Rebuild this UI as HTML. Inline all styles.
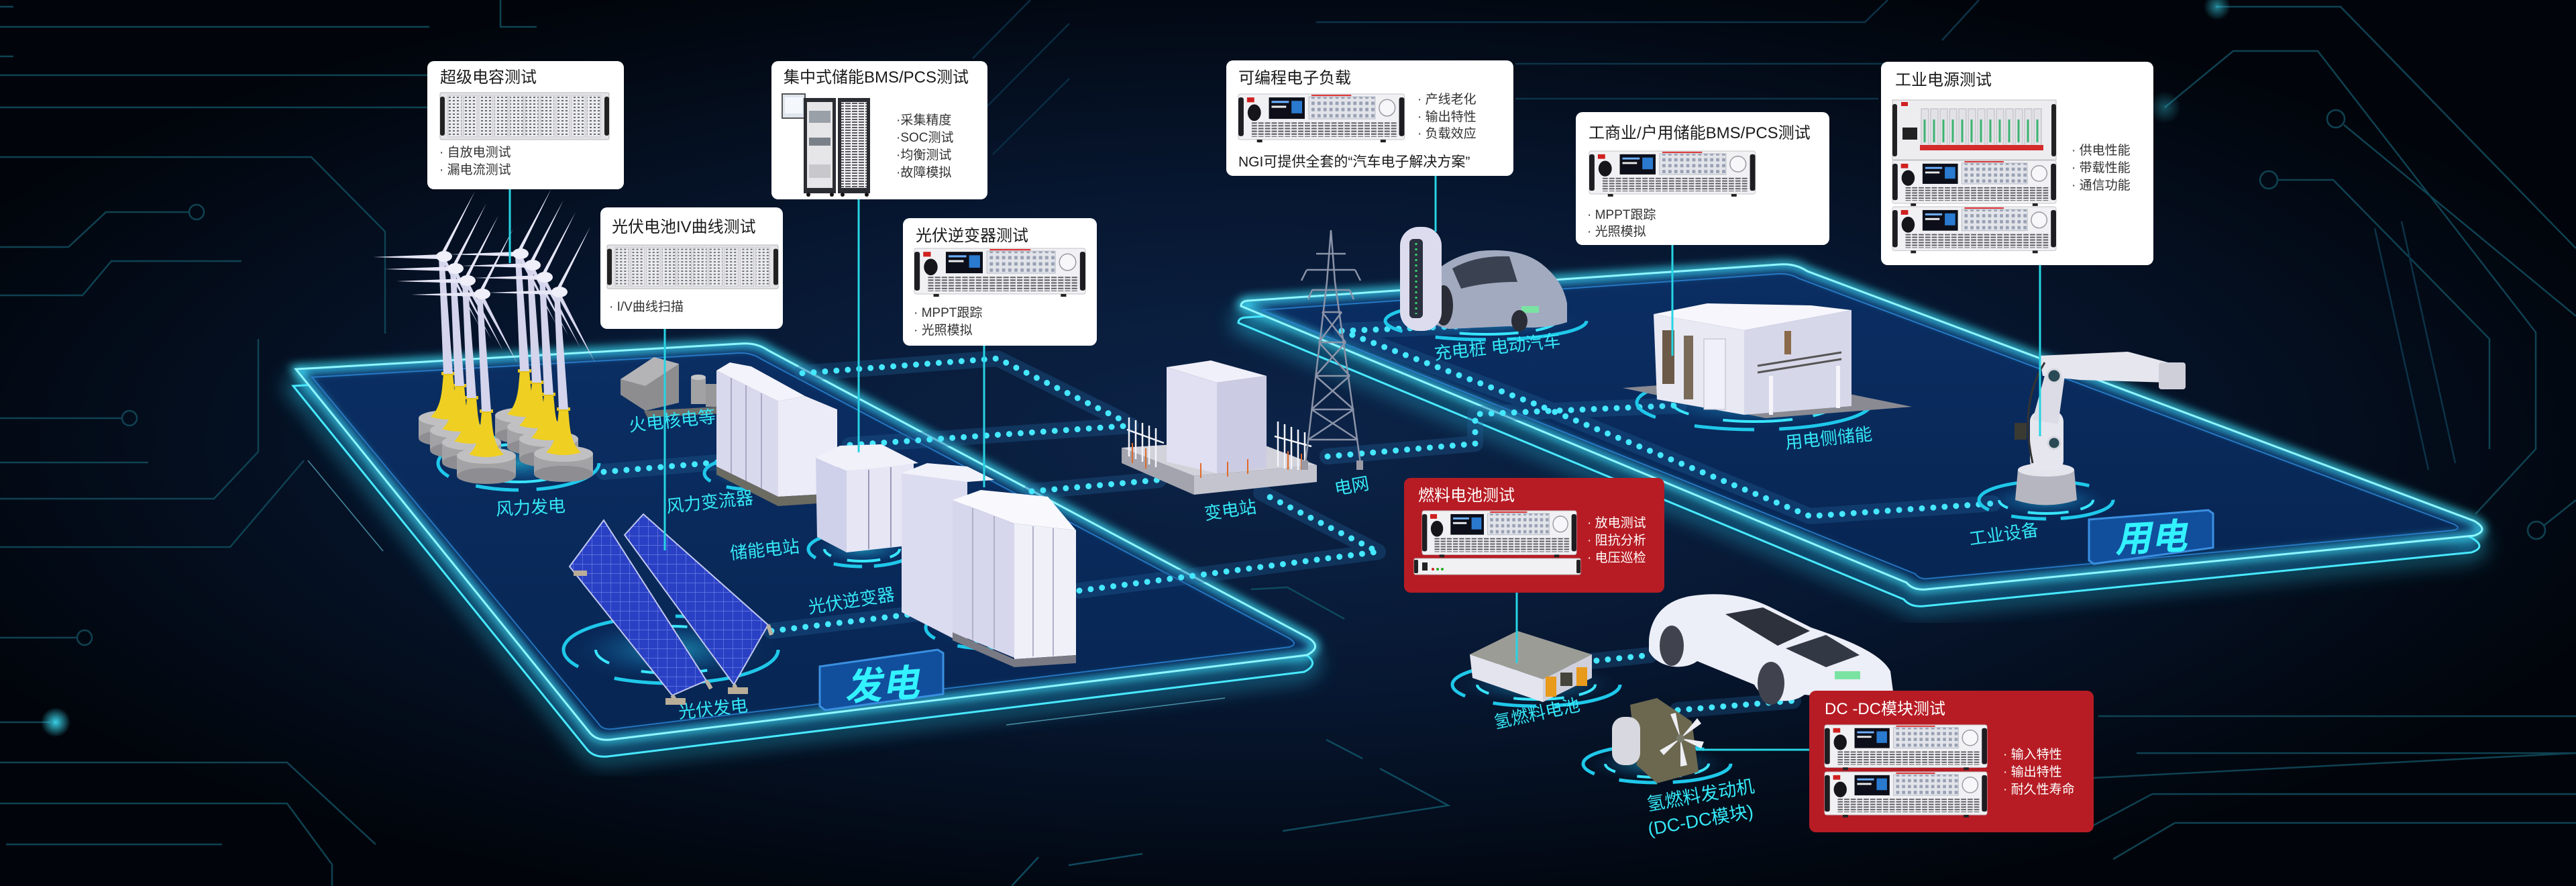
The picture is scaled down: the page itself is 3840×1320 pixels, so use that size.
<!DOCTYPE html>
<html><head><meta charset="utf-8"><title>NGI 新能源测试方案</title>
<style>
html,body{margin:0;padding:0;background:#02060c;width:3840px;height:1320px;overflow:hidden}
svg{display:block}
text{font-family:"Liberation Sans","Noto Sans CJK SC",sans-serif}
</style></head><body>
<svg width="3840" height="1320" viewBox="0 0 3840 1320" xmlns="http://www.w3.org/2000/svg" xmlns:xlink="http://www.w3.org/1999/xlink">
<defs>
 <radialGradient id="bg" cx="0.49" cy="0.5" r="0.56">
  <stop offset="0" stop-color="#0c2449"/>
  <stop offset="0.5" stop-color="#071731"/>
  <stop offset="1" stop-color="#01050b"/>
 </radialGradient>
 <linearGradient id="plat" x1="0" y1="0" x2="0" y2="1">
  <stop offset="0" stop-color="#0b2e63"/>
  <stop offset="1" stop-color="#072552"/>
 </linearGradient>
 <radialGradient id="hg">
  <stop offset="0" stop-color="#29d7f0" stop-opacity="0.55"/>
  <stop offset="0.6" stop-color="#1a8fd0" stop-opacity="0.18"/>
  <stop offset="1" stop-color="#0a3060" stop-opacity="0"/>
 </radialGradient>
 <radialGradient id="dotg">
  <stop offset="0" stop-color="#3fe6ff" stop-opacity="0.9"/>
  <stop offset="1" stop-color="#3fe6ff" stop-opacity="0"/>
 </radialGradient>
 <filter id="gl" x="-5%" y="-5%" width="110%" height="110%"><feGaussianBlur stdDeviation="7"/></filter>
 <filter id="gl2" x="-5%" y="-5%" width="110%" height="110%"><feGaussianBlur stdDeviation="16"/></filter>
 <pattern id="modp" width="6" height="5" patternUnits="userSpaceOnUse"><rect width="6" height="5" fill="#ebebed"/><rect x="1" y="1" width="3" height="2" fill="#666a72"/></pattern>
 <pattern id="grille" width="10" height="4" patternUnits="userSpaceOnUse"><rect width="10" height="4" fill="#f1f1f3"/><rect x="0" y="1" width="8" height="2" fill="#5a5a60"/></pattern>
 <pattern id="keys" width="9" height="9" patternUnits="userSpaceOnUse"><rect width="9" height="9" fill="#e2e4ea"/><rect x="2" y="2" width="5" height="5" rx="1" fill="#9aa2b4"/></pattern>
 <pattern id="cells" width="14" height="14" patternUnits="userSpaceOnUse"><rect width="14" height="14" fill="#2a40c4"/><path d="M0,0 H14 M0,0 V14" stroke="#7086ea" stroke-width="1.2"/></pattern>

 <g id="psu">
  <rect x="0" y="0" width="250" height="66" rx="3" fill="#f1f1f3" stroke="#c4c4ca"/>
  <rect x="0" y="5" width="8" height="56" rx="3" fill="#1e1e22"/>
  <rect x="242" y="5" width="8" height="56" rx="3" fill="#1e1e22"/>
  <rect x="13" y="5" width="11" height="7" fill="#d02020"/>
  <ellipse cx="24" cy="27" rx="10" ry="12" fill="#15151a"/>
  <rect x="46" y="5" width="54" height="31" fill="#0c0f1a"/>
  <rect x="50" y="10" width="26" height="3" fill="#6fb0ff"/>
  <rect x="50" y="17" width="22" height="3" fill="#e8e8e8"/>
  <rect x="80" y="10" width="16" height="18" fill="#2a7ad0"/>
  <rect x="106" y="4" width="100" height="32" fill="url(#keys)" stroke="#b8bcc8"/>
  <rect x="110" y="1" width="60" height="2" fill="#d33"/>
  <circle cx="224" cy="20" r="12" fill="#f7f7f9" stroke="#9a9aa0" stroke-width="1.5"/>
  <rect x="20" y="41" width="220" height="21" fill="url(#grille)"/>
  <rect x="28" y="66" width="8" height="4" fill="#222"/>
  <rect x="214" y="66" width="8" height="4" fill="#222"/>
 </g>
 <g id="rack">
  <rect x="0" y="0" width="252" height="70" rx="2" fill="#e4e4e7" stroke="#b5b5ba"/>
  <rect x="0" y="6" width="7" height="58" rx="3" fill="#222"/>
  <rect x="245" y="6" width="7" height="58" rx="3" fill="#222"/>
  <rect x="12" y="4" width="20" height="62" fill="url(#modp)" stroke="#c5c5ca"/>
  <rect x="35" y="4" width="20" height="62" fill="url(#modp)" stroke="#c5c5ca"/>
  <rect x="58" y="4" width="20" height="62" fill="url(#modp)" stroke="#c5c5ca"/>
  <rect x="81" y="4" width="20" height="62" fill="url(#modp)" stroke="#c5c5ca"/>
  <rect x="104" y="4" width="20" height="62" fill="url(#modp)" stroke="#c5c5ca"/>
  <rect x="127" y="4" width="20" height="62" fill="url(#modp)" stroke="#c5c5ca"/>
  <rect x="150" y="4" width="20" height="62" fill="url(#modp)" stroke="#c5c5ca"/>
  <rect x="173" y="4" width="20" height="62" fill="url(#modp)" stroke="#c5c5ca"/>
  <rect x="196" y="4" width="20" height="62" fill="url(#modp)" stroke="#c5c5ca"/>
  <rect x="219" y="4" width="20" height="62" fill="url(#modp)" stroke="#c5c5ca"/>
 </g>
 <g id="tb">
  <rect x="-44" y="66" width="88" height="30" fill="#a3a3a6"/>
  <ellipse cx="0" cy="96" rx="44" ry="12" fill="#8e8e92"/>
  <ellipse cx="0" cy="66" rx="44" ry="12" fill="#c0c0c3"/>
  <path d="M-7,0 L7,0 L9,22 Q12,52 26,64 Q0,72 -26,64 Q-12,52 -9,22 Z" fill="#efd022"/>
  <rect x="-10" y="-3" width="20" height="5" fill="#e3c21a"/>
  <polygon points="-14,-175 -6,-175 7,0 -7,0" fill="#d4d4ec"/>
  <polygon points="-10,-178 -112,-174 -10,-171" fill="#e6e6f6"/>
  <polygon points="-13,-175 40,-272 -7,-175" fill="#e6e6f6"/>
  <polygon points="-12,-174 47,-70 -6,-176" fill="#d8d8ee"/>
  <ellipse cx="-6" cy="-175" rx="12" ry="8" fill="#efeffa"/>
 </g>
 <g id="pp">
  <path d="M900,703 L1079,688"/>
  <path d="M1196,556 L1487,534 L1675,627"/>
  <path d="M1267,663 L1686,634"/>
  <path d="M1538,732 L1727,715"/>
  <path d="M1150,940 L1410,909"/>
  <path d="M1609,880 L2054,822 L1880,734"/>
  <path d="M1979,680 L2199,661 L2199,617 L2503,604"/>
  <path d="M2000,493 L2180,486"/>
  <path d="M2000,493 L2294,604 L2698,769 L2971,750"/>
  <path d="M2363,986 L2459,976"/>
  <path d="M2501,1058 L2673,1044"/>
 </g>
</defs>

<!-- background -->
<rect width="3840" height="1320" fill="url(#bg)"/>

<!-- circuit lines -->
<g fill="none" stroke="#0f4252" stroke-width="2.5">
 <path d="M0,10 H20 M0,84 H20 M0,40 H640 M746,0 V40 H800 M0,112 H660 M0,160 H660"/>
 <path d="M0,234 H464 L574,345 V497"/>
 <path d="M282,316 H158 L102,368 H0"/>
 <path d="M360,389 H166 L123,440 H0"/>
 <path d="M182,623 H0 M0,689 H221"/>
 <path d="M0,743 H319 L385,673 V505"/>
 <path d="M0,815 H343 L453,686"/>
 <path d="M115,950 H0 M75,1076 H0"/>
 <path d="M0,1136 H428 L560,1258 M0,1197 H428 L495,1288 V1320 M9,1258 H331"/>
 <circle cx="293" cy="316" r="11"/>
 <circle cx="193" cy="623" r="11"/>
 <circle cx="126" cy="950" r="11"/>
 <path d="M3303,10 H3489 L3840,370"/>
 <path d="M3227,160 L3329,76 H3455 L3780,495 V669 L3690,766"/>
 <path d="M3494,186 L3840,471"/>
 <path d="M3395,268 H3478 L3711,505 V669"/>
 <path d="M3792,783 L3840,745"/>
 <path d="M3128,1067 H3840 M3185,1122 H3840 L3100,1160 M3208,1183 H3840 M3208,1183 L3120,1230 M3242,1226 H3840 M3242,1226 L3150,1280"/>
 <circle cx="3482" cy="177" r="13"/>
 <circle cx="3382" cy="268" r="13"/>
 <circle cx="3781" cy="790" r="13"/>
 <path d="M1962,33 H2780 L2814,0 M2259,95 H2810 M2259,147 H2800 M2895,60 L2950,0" stroke="#0c3348"/>
 <path d="M1536,0 L1450,87 M1594,35 L1450,180 M1594,117 L1480,230" stroke="#0a2c42"/>
 <path d="M3540,340 L3620,700 M3580,330 L3660,690" stroke="#0c3348"/>
 <path d="M1865,878 L1919,875 L2004,922 M1977,1102 L2031,1130 M2057,1145 L2159,1200 L1912,1238 M1703,1272 L1593,1289 M1548,1277 L1508,1320" stroke="#0f4a5e"/>
</g>
<circle cx="83" cy="1076" r="22" fill="url(#dotg)"/>
<circle cx="3305" cy="10" r="20" fill="url(#dotg)" opacity="0.6"/>
<circle cx="3227" cy="160" r="24" fill="url(#dotg)" opacity="0.35"/>

<!-- LEFT PLATFORM -->
<g>
 <path transform="translate(-4,25)" d="M441,550 L1104,512 Q1128,510 1145,522 L1950,950 Q1972,964 1948,976 L910,1102 Q888,1104 878,1090 Z" fill="#05193a"/>
 <path transform="translate(-4,25)" d="M441,550 L1104,512 Q1128,510 1145,522 L1950,950 Q1972,964 1948,976 L910,1102 Q888,1104 878,1090 Z" fill="none" stroke="#2fd8ff" stroke-width="14" filter="url(#gl2)" opacity="0.7"/>
 <path transform="translate(-4,25)" d="M441,550 L1104,512 Q1128,510 1145,522 L1950,950 Q1972,964 1948,976 L910,1102 Q888,1104 878,1090 Z" fill="none" stroke="#49e9ff" stroke-width="3"/>
 <path d="M441,550 L1104,512 Q1128,510 1145,522 L1950,950 Q1972,964 1948,976 L910,1102 Q888,1104 878,1090 Z" fill="url(#plat)"/>
 <path d="M441,550 L1104,512 Q1128,510 1145,522 L1950,950 Q1972,964 1948,976 L910,1102 Q888,1104 878,1090 Z" fill="none" stroke="#3fe6ff" stroke-width="10" filter="url(#gl)"/>
 <path d="M441,550 L1104,512 Q1128,510 1145,522 L1950,950 Q1972,964 1948,976 L910,1102 Q888,1104 878,1090 Z" fill="none" stroke="#8ff6ff" stroke-width="3"/>
 <path d="M465,562 L1100,526 Q1120,525 1135,535 L1922,951 Q1936,960 1922,964 L914,1086 Q898,1088 892,1078 Z" fill="none" stroke="#2c86d8" stroke-width="2" opacity="0.8"/>
 <path d="M1826,1040 L1500,1080 M459,686 L571,821" stroke="#6fdcf0" stroke-width="1.5" opacity="0.6"/>
</g>

<!-- RIGHT PLATFORM -->
<g>
 <path transform="translate(-4,25)" d="M1850,456 Q1850,449 1860,448 L2652,394 Q2676,392 2694,404 L3688,776 Q3712,790 3688,798 L2872,878 Q2852,880 2842,868 Z" fill="#05193a"/>
 <path transform="translate(-4,25)" d="M1850,456 Q1850,449 1860,448 L2652,394 Q2676,392 2694,404 L3688,776 Q3712,790 3688,798 L2872,878 Q2852,880 2842,868 Z" fill="none" stroke="#2fd8ff" stroke-width="14" filter="url(#gl2)" opacity="0.7"/>
 <path transform="translate(-4,25)" d="M1850,456 Q1850,449 1860,448 L2652,394 Q2676,392 2694,404 L3688,776 Q3712,790 3688,798 L2872,878 Q2852,880 2842,868 Z" fill="none" stroke="#49e9ff" stroke-width="3"/>
 <path d="M1850,456 Q1850,449 1860,448 L2652,394 Q2676,392 2694,404 L3688,776 Q3712,790 3688,798 L2872,878 Q2852,880 2842,868 Z" fill="url(#plat)"/>
 <path d="M1850,456 Q1850,449 1860,448 L2652,394 Q2676,392 2694,404 L3688,776 Q3712,790 3688,798 L2872,878 Q2852,880 2842,868 Z" fill="none" stroke="#3fe6ff" stroke-width="10" filter="url(#gl)"/>
 <path d="M1850,456 Q1850,449 1860,448 L2652,394 Q2676,392 2694,404 L3688,776 Q3712,790 3688,798 L2872,878 Q2852,880 2842,868 Z" fill="none" stroke="#8ff6ff" stroke-width="3"/>
 <path d="M1880,462 L2650,408 Q2668,407 2682,415 L3658,781 Q3670,787 3658,790 L2875,862 Q2862,864 2855,855 Z" fill="none" stroke="#2c86d8" stroke-width="2" opacity="0.8"/>
</g>

<!-- dotted paths -->
<use href="#pp" fill="none" stroke="#1f5f96" stroke-width="24" stroke-linecap="round" stroke-linejoin="round" opacity="0.35"/>
<use href="#pp" fill="none" stroke="#45e8ff" stroke-width="9" stroke-linecap="round" stroke-dasharray="0 17"/>

<!-- halos -->
<g fill="none">
 <ellipse cx="773" cy="690" rx="120" ry="40" fill="url(#hg)"/>
 <ellipse cx="773" cy="690" rx="120" ry="40" stroke="#1fc8ea" stroke-width="5" pathLength="100" stroke-dasharray="20 5 12 8 25 6 14 10"/>
 <ellipse cx="773" cy="690" rx="84" ry="28" stroke="#39e6ff" stroke-width="4" pathLength="100" stroke-dasharray="8 6 20 10 6 12 18 20"/>
 <ellipse cx="1120" cy="705" rx="70" ry="24" fill="url(#hg)"/>
 <ellipse cx="1120" cy="705" rx="70" ry="24" stroke="#1fc8ea" stroke-width="5" pathLength="100" stroke-dasharray="20 5 12 8 25 6 14 10"/>
 <ellipse cx="1285" cy="818" rx="80" ry="26" fill="url(#hg)"/>
 <ellipse cx="1285" cy="818" rx="80" ry="26" stroke="#1fc8ea" stroke-width="5" pathLength="100" stroke-dasharray="20 5 12 8 25 6 14 10"/>
 <ellipse cx="1285" cy="818" rx="56" ry="18" stroke="#39e6ff" stroke-width="4" pathLength="100" stroke-dasharray="8 6 20 10 6 12 18 20"/>
 <ellipse cx="1480" cy="935" rx="100" ry="32" fill="url(#hg)"/>
 <ellipse cx="1480" cy="935" rx="100" ry="32" stroke="#1fc8ea" stroke-width="5" pathLength="100" stroke-dasharray="20 5 12 8 25 6 14 10"/>
 <ellipse cx="1480" cy="935" rx="70" ry="22" stroke="#39e6ff" stroke-width="4" pathLength="100" stroke-dasharray="8 6 20 10 6 12 18 20"/>
 <ellipse cx="1000" cy="968" rx="160" ry="50" fill="url(#hg)"/>
 <ellipse cx="1000" cy="968" rx="160" ry="50" stroke="#1fc8ea" stroke-width="5" pathLength="100" stroke-dasharray="20 5 12 8 25 6 14 10"/>
 <ellipse cx="1000" cy="968" rx="112" ry="35" stroke="#39e6ff" stroke-width="4" pathLength="100" stroke-dasharray="8 6 20 10 6 12 18 20"/>
 <ellipse cx="2215" cy="478" rx="150" ry="28" fill="url(#hg)"/>
 <ellipse cx="2215" cy="478" rx="150" ry="28" stroke="#1fc8ea" stroke-width="5" pathLength="100" stroke-dasharray="20 5 12 8 25 6 14 10"/>
 <ellipse cx="2215" cy="478" rx="105" ry="20" stroke="#39e6ff" stroke-width="4" pathLength="100" stroke-dasharray="8 6 20 10 6 12 18 20"/>
 <ellipse cx="2615" cy="600" rx="175" ry="40" fill="url(#hg)"/>
 <ellipse cx="2615" cy="600" rx="175" ry="40" stroke="#1fc8ea" stroke-width="5" pathLength="100" stroke-dasharray="20 5 12 8 25 6 14 10"/>
 <ellipse cx="2615" cy="600" rx="122" ry="28" stroke="#39e6ff" stroke-width="4" pathLength="100" stroke-dasharray="8 6 20 10 6 12 18 20"/>
 <ellipse cx="3050" cy="745" rx="100" ry="28" fill="url(#hg)"/>
 <ellipse cx="3050" cy="745" rx="100" ry="28" stroke="#1fc8ea" stroke-width="5" pathLength="100" stroke-dasharray="20 5 12 8 25 6 14 10"/>
 <ellipse cx="3050" cy="745" rx="70" ry="20" stroke="#39e6ff" stroke-width="4" pathLength="100" stroke-dasharray="8 6 20 10 6 12 18 20"/>
 <ellipse cx="2290" cy="1020" rx="125" ry="32" fill="url(#hg)"/>
 <ellipse cx="2290" cy="1020" rx="125" ry="32" stroke="#1fc8ea" stroke-width="5" pathLength="100" stroke-dasharray="20 5 12 8 25 6 14 10"/>
 <ellipse cx="2290" cy="1020" rx="88" ry="22" stroke="#39e6ff" stroke-width="4" pathLength="100" stroke-dasharray="8 6 20 10 6 12 18 20"/>
 <ellipse cx="2470" cy="1138" rx="110" ry="28" fill="url(#hg)"/>
 <ellipse cx="2470" cy="1138" rx="110" ry="28" stroke="#1fc8ea" stroke-width="5" pathLength="100" stroke-dasharray="20 5 12 8 25 6 14 10"/>
 <ellipse cx="2470" cy="1138" rx="77" ry="20" stroke="#39e6ff" stroke-width="4" pathLength="100" stroke-dasharray="8 6 20 10 6 12 18 20"/>
</g>

<!-- thermal plant -->
<g>
 <polygon points="925,565 975,532 1012,542 1012,600 962,612 925,588" fill="#8d8d90"/>
 <polygon points="925,565 975,532 1012,542 962,575" fill="#b4b4b6"/>
 <rect x="1030" y="562" width="22" height="40" fill="#a2a2a4"/>
 <ellipse cx="1041" cy="562" rx="11" ry="4" fill="#c6c6c8"/>
 <rect x="1052" y="572" width="18" height="34" fill="#98989a"/>
 <polygon points="960,612 1070,606 1075,616 965,622" fill="#6e6e6c"/>
</g>

<!-- converter cabinets 风力变流器 -->
<g>
 <polygon points="1068,552 1160,598 1160,740 1068,695" fill="#d9d9ee"/>
 <polygon points="1160,598 1200,590 1248,610 1248,735 1160,740" fill="#ececf8"/>
 <polygon points="1068,552 1088,540 1120,546 1200,590 1160,598" fill="#f3f3fb"/>
 <path d="M1090,563 V707 M1112,574 V718 M1135,586 V729" stroke="#a9a9c4" stroke-width="2"/>
 <polygon points="1068,695 1160,740 1248,735 1248,748 1160,754 1068,707" fill="#6b6b62"/>
</g>

<!-- storage cabinet 储能电站 -->
<g>
 <polygon points="1216,682 1262,702 1262,823 1218,800" fill="#cfd0ea"/>
 <polygon points="1262,702 1362,690 1362,812 1262,823" fill="#e6e6f5"/>
 <polygon points="1216,682 1252,664 1314,662 1369,690 1262,702" fill="#f1f1fa"/>
 <path d="M1295,700 V818 M1328,696 V815" stroke="#9a9ab8" stroke-width="2"/>
</g>

<!-- inverter cabinets 光伏逆变器 -->
<g>
 <polygon points="1344,705 1392,694 1442,718 1442,962 1344,912" fill="#dcdcf0"/>
 <polygon points="1344,705 1382,690 1442,695 1482,715 1442,718" fill="#f2f2fb"/>
 <polygon points="1420,745 1512,780 1512,980 1420,942" fill="#d6d6ec"/>
 <polygon points="1512,780 1604,790 1604,976 1512,982" fill="#f0f0f8"/>
 <polygon points="1420,745 1462,730 1562,740 1604,790 1512,780" fill="#f8f8fd"/>
 <path d="M1450,757 V953 M1482,769 V966 M1540,784 V978 M1570,787 V977" stroke="#b0b0c8" stroke-width="2"/>
 <polygon points="1420,942 1512,982 1604,976 1604,988 1512,994 1420,954" fill="#7a7a84"/>
</g>

<!-- solar panels -->
<g>
 <polygon points="849,844 900,775 1053,1014 1002,1036" fill="url(#cells)" stroke="#c0c8f0" stroke-width="2"/>
 <polygon points="931,797 959,766 1145,931 1094,1020" fill="url(#cells)" stroke="#c0c8f0" stroke-width="2"/>
 <path d="M1002,1036 L1010,1048 M1053,1014 L1060,1026 M1094,1020 L1100,1032 M1145,931 L1150,946" stroke="#b8b0a0" stroke-width="6"/>
 <rect x="992" y="1040" width="30" height="10" fill="#b9ad98"/>
 <rect x="1085" y="1024" width="30" height="10" fill="#b9ad98"/>
 <rect x="855" y="850" width="20" height="8" fill="#b9ad98"/>
</g>

<!-- wind turbines -->
<use href="#tb" x="782" y="553"/>
<use href="#tb" x="668" y="557"/>
<use href="#tb" x="800" y="570"/>
<use href="#tb" x="685" y="575"/>
<use href="#tb" x="818" y="588"/>
<use href="#tb" x="703" y="593"/>
<use href="#tb" x="840" y="610"/>
<use href="#tb" x="725" y="613"/>

<!-- substation -->
<g>
 <polygon points="1672,667 1780,709 1780,737 1672,690" fill="#a4a4ae"/>
 <polygon points="1780,709 1963,693 1963,718 1780,737" fill="#c4c4ce"/>
 <polygon points="1672,667 1863,655 1963,693 1780,709" fill="#d2d2da"/>
 <polygon points="1739,547 1814,570 1814,705 1739,688" fill="#e0e0f2"/>
 <polygon points="1814,570 1888,560 1888,697 1814,705" fill="#cbcbe4"/>
 <polygon points="1739,547 1805,537 1888,560 1814,570" fill="#f0f0fa"/>
 <g stroke="#f4f4fa" stroke-width="2.5">
  <path d="M1683,622 V680 M1693,626 V684 M1703,630 V688 M1713,634 V692 M1723,638 V696 M1905,628 V695 M1915,632 V698 M1925,636 V699 M1935,640 V700 M1945,644 V700"/>
  <path d="M1680,640 L1735,660 M1900,650 L1955,665"/>
 </g>
 <g stroke="#e06a2a" stroke-width="2"><path d="M1688,660 V690 M1708,668 V698 M1920,672 V700 M1940,676 V700 M1790,690 V712 M1830,688 V710 M1860,684 V706"/></g>
</g>

<!-- transmission tower -->
<g stroke="#8b93a8" stroke-width="2.5" fill="none">
 <path d="M1946,690 L1978,420 L1984,343 L1990,420 L2028,690"/>
 <path d="M1950,655 H2024 M1955,610 H2018 M1961,560 H2012 M1966,510 H2006 M1971,465 H2000"/>
 <path d="M1950,655 L2018,610 M2024,655 L1955,610 M1955,610 L2012,560 M2018,610 L1961,560 M1961,560 L2006,510 M2012,560 L1966,510 M1966,510 L2000,465 M2006,510 L1971,465"/>
 <path d="M1948,402 H2020 M1956,432 H2012 M1962,378 H2006"/>
 <path d="M1948,402 L1940,418 M2020,402 L2028,418 M1956,432 L1950,446 M2012,432 L2018,446"/>
</g>
<rect x="1940" y="686" width="10" height="14" fill="#9a9aa4"/>
<rect x="2022" y="686" width="10" height="14" fill="#9a9aa4"/>

<!-- charger + car (top) -->
<g>
 <path d="M2120,430 Q2145,385 2205,374 Q2265,368 2298,393 Q2330,418 2336,452 L2336,480 Q2300,492 2250,486 L2160,490 Q2124,482 2120,462 Z" fill="#a2aac0"/>
 <path d="M2165,400 Q2200,380 2250,382 L2262,420 Q2215,420 2178,430 Z" fill="#3a4150"/>
 <rect x="2268" y="456" width="26" height="10" fill="#7be3a2"/>
 <ellipse cx="2152" cy="455" rx="14" ry="30" fill="#2a2d36"/>
 <ellipse cx="2265" cy="478" rx="12" ry="16" fill="#2a2d36"/>
 <rect x="2087" y="338" width="62" height="155" rx="28" fill="#dcdcee"/>
 <rect x="2101" y="356" width="20" height="118" rx="6" fill="#2a3040"/>
 <path d="M2111,362 V468" stroke="#32d26a" stroke-width="3" stroke-dasharray="3 5"/>
</g>

<!-- house -->
<g>
 <polygon points="2419,578 2635,562 2850,606 2632,623" fill="#8a8a92"/>
 <polygon points="2465,468 2600,492 2600,618 2470,595" fill="#e9e9f4"/>
 <polygon points="2600,492 2760,462 2760,605 2600,618" fill="#d7d7ea"/>
 <polygon points="2465,468 2545,452 2700,455 2760,462 2600,492" fill="#f6f6fc"/>
 <rect x="2478" y="492" width="18" height="80" fill="#6b5a48"/>
 <rect x="2510" y="500" width="14" height="95" fill="#7a6a58"/>
 <rect x="2540" y="505" width="32" height="105" fill="#f0f0fa" stroke="#b8b8cc"/>
 <rect x="2660" y="493" width="10" height="35" fill="#8a6a4a"/>
 <path d="M2620,545 L2745,525 M2620,555 L2745,535" stroke="#555" stroke-width="3"/>
 <path d="M2640,560 V618 M2740,545 V608" stroke="#f4f4fa" stroke-width="6"/>
</g>

<!-- robot -->
<g>
 <path d="M3008,700 L3092,700 L3096,745 Q3050,760 3004,745 Z" fill="#b6b6c0"/>
 <ellipse cx="3050" cy="700" rx="42" ry="10" fill="#e4e4ec"/>
 <rect x="3026" y="612" width="50" height="90" rx="16" fill="#e6e6ee"/>
 <polygon points="3030,625 3052,545 3080,545 3068,632" fill="#dcdce6"/>
 <polygon points="3040,530 3172,524 3232,540 3232,570 3100,566 3045,560" fill="#e6e6ee"/>
 <rect x="3218" y="540" width="40" height="40" rx="4" fill="#cfcfda"/>
 <circle cx="3062" cy="560" r="10" fill="#2a4a55" stroke="#d8d8e0" stroke-width="3"/>
 <circle cx="3062" cy="660" r="9" fill="#2a4a55" stroke="#d8d8e0" stroke-width="3"/>
 <rect x="3003" y="630" width="18" height="25" fill="#3a3a32"/>
 <path d="M3048,540 Q3010,600 3030,690" stroke="#333" stroke-width="3" fill="none"/>
</g>

<!-- fuel cell -->
<g>
 <polygon points="2191,975 2262,940 2373,975 2300,1012" fill="#9c9c96"/>
 <polygon points="2191,975 2300,1012 2300,1046 2195,1010" fill="#e4e4ee"/>
 <polygon points="2300,1012 2373,975 2373,1010 2300,1046" fill="#d0d0dc"/>
 <rect x="2304" y="1008" width="16" height="30" fill="#e89a1c"/>
 <rect x="2350" y="994" width="16" height="28" fill="#e89a1c"/>
 <rect x="2326" y="1002" width="18" height="20" fill="#44443a"/>
</g>

<!-- white car -->
<g>
 <path d="M2458,955 C2460,920 2480,895 2520,888 C2560,882 2600,885 2640,905 L2700,935 C2760,955 2805,975 2818,1000 L2822,1030 C2800,1045 2770,1046 2740,1040 L2690,1035 C2670,1050 2630,1048 2615,1020 L2530,985 C2510,1000 2470,995 2458,970 Z" fill="#eceef8"/>
 <path d="M2572,915 L2628,905 L2698,940 L2650,962 Z" fill="#2c313c"/>
 <path d="M2662,966 L2722,946 L2772,976 L2722,994 Z" fill="#333845"/>
 <ellipse cx="2492" cy="962" rx="18" ry="30" fill="#40434e"/>
 <ellipse cx="2640" cy="1018" rx="20" ry="32" fill="#40434e"/>
 <rect x="2735" y="1000" width="38" height="12" fill="#7be3a2"/>
</g>

<!-- engine -->
<g>
 <polygon points="2430,1050 2470,1040 2522,1075 2532,1150 2470,1167 2440,1140" fill="#6c6850"/>
 <rect x="2403" y="1068" width="42" height="72" rx="18" fill="#d8d8e0"/>
 <g fill="#eeeef4">
  <polygon points="2505,1100 2530,1070 2536,1078"/>
  <polygon points="2505,1100 2540,1105 2536,1115"/>
  <polygon points="2505,1100 2515,1140 2505,1142"/>
  <polygon points="2505,1100 2480,1125 2474,1118"/>
  <polygon points="2505,1100 2490,1064 2498,1062"/>
 </g>
 <circle cx="2505" cy="1100" r="6" fill="#7a7a6a"/>
</g>

<!-- scene labels -->
<g fill="#35e8f7" font-size="26" text-anchor="middle">
 <text x="791" y="765" transform="rotate(-3 791 756)">风力发电</text>
 <text x="1002" y="636" transform="rotate(-6 1002 627)">火电核电等</text>
 <text x="1058" y="757" transform="rotate(-6 1058 748)">风力变流器</text>
 <text x="1140" y="828" transform="rotate(-6 1140 819)">储能电站</text>
 <text x="1269" y="904" transform="rotate(-9 1269 895)">光伏逆变器</text>
 <text x="1063" y="1065" transform="rotate(-6 1063 1056)">光伏发电</text>
 <text x="1834" y="769" transform="rotate(-8 1834 760)">变电站</text>
 <text x="2015" y="733" transform="rotate(-10 2015 724)">电网</text>
 <text x="2232" y="526" transform="rotate(-6 2232 517)">充电桩  电动汽车</text>
 <text x="2726" y="662" transform="rotate(-6 2726 653)">用电侧储能</text>
 <text x="2987" y="805" transform="rotate(-8 2987 796)">工业设备</text>
 <text x="2291" y="1072" transform="rotate(-12 2291 1063)">氢燃料电池</text>
 <text x="2535" y="1194" font-size="27" transform="rotate(-10 2535 1185)">氢燃料发动机</text>
 <text x="2535" y="1231" font-size="27" transform="rotate(-10 2535 1222)">(DC-DC模块)</text>
</g>

<!-- badges -->
<g>
 <polygon points="1222,993 1398,968 1406,973 1406,1034 1230,1058 1222,1052" fill="#114f9c" stroke="#3a8fe0" stroke-width="3"/>
 <text x="1314" y="1040" font-size="56" font-weight="bold" font-style="italic" fill="#33f2ff" text-anchor="middle" transform="rotate(-4 1314 1020)">发电</text>
 <polygon points="3114,774 3292,760 3299,765 3299,816 3121,840 3114,835" fill="#114f9c" stroke="#3a8fe0" stroke-width="3"/>
 <text x="3206" y="820" font-size="54" font-weight="bold" font-style="italic" fill="#33f2ff" text-anchor="middle" transform="rotate(-3 3206 800)">用电</text>
</g>

<!-- connector lines -->
<g stroke="#27d4e4" stroke-width="3">
 <path d="M760,282 V392"/>
 <path d="M1280,297 V674"/>
 <path d="M991,490 V820"/>
 <path d="M1467,515 V726"/>
 <path d="M2140,262 V345"/>
 <path d="M2493,365 V530"/>
 <path d="M3041,395 V650"/>
 <path d="M2261,883 V988"/>
 <path d="M2528,1117 H2697"/>
</g>

<!-- Callout A 超级电容测试 -->
<g>
 <rect x="637" y="91" width="293" height="191" rx="10" fill="#fff"/>
 <text x="656" y="123" font-size="24" fill="#1a1a1a">超级电容测试</text>
 <use href="#rack" transform="translate(656,138)"/>
 <text x="655" y="233" font-size="19" fill="#333">· 自放电测试</text>
 <text x="655" y="259" font-size="19" fill="#333">· 漏电流测试</text>
</g>

<!-- Callout B 集中式储能BMS/PCS测试 -->
<g>
 <rect x="1150" y="91" width="322" height="206" rx="10" fill="#fff"/>
 <text x="1168" y="123" font-size="24" fill="#1a1a1a">集中式储能BMS/PCS测试</text>
 <rect x="1166" y="140" width="34" height="36" fill="#dfe6ee" stroke="#555" stroke-width="2"/>
 <rect x="1170" y="145" width="26" height="24" fill="#f4f8fc"/>
 <rect x="1198" y="146" width="48" height="142" fill="#2b2d33"/>
 <rect x="1203" y="152" width="38" height="128" fill="#e6e6e8"/>
 <rect x="1206" y="165" width="32" height="18" fill="#9aa0a8"/>
 <rect x="1206" y="205" width="32" height="12" fill="#7a8088"/>
 <rect x="1206" y="245" width="32" height="20" fill="#c8c8cc"/>
 <rect x="1249" y="146" width="48" height="142" fill="#2b2d33"/>
 <rect x="1254" y="152" width="38" height="128" fill="url(#grille)"/>
 <circle cx="1205" cy="290" r="3" fill="#111"/><circle cx="1240" cy="290" r="3" fill="#111"/><circle cx="1256" cy="290" r="3" fill="#111"/><circle cx="1292" cy="290" r="3" fill="#111"/>
 <text x="1336" y="185" font-size="19" fill="#333">·采集精度</text>
 <text x="1336" y="211" font-size="19" fill="#333">·SOC测试</text>
 <text x="1336" y="237" font-size="19" fill="#333">·均衡测试</text>
 <text x="1336" y="263" font-size="19" fill="#333">·故障模拟</text>
</g>

<!-- Callout C 光伏电池IV曲线测试 -->
<g>
 <rect x="895" y="309" width="272" height="181" rx="10" fill="#fff"/>
 <text x="912" y="346" font-size="24" fill="#1a1a1a">光伏电池IV曲线测试</text>
 <use href="#rack" transform="translate(905,365) scale(1.012,0.93)"/>
 <text x="908" y="463" font-size="19" fill="#333">· I/V曲线扫描</text>
</g>

<!-- Callout D 光伏逆变器测试 -->
<g>
 <rect x="1346" y="325" width="289" height="190" rx="10" fill="#fff"/>
 <text x="1365" y="359" font-size="24" fill="#1a1a1a">光伏逆变器测试</text>
 <use href="#psu" transform="translate(1363,370) scale(1.02,1.03)"/>
 <text x="1362" y="472" font-size="19" fill="#333">· MPPT跟踪</text>
 <text x="1362" y="498" font-size="19" fill="#333">· 光照模拟</text>
</g>

<!-- Callout E 可编程电子负载 -->
<g>
 <rect x="1828" y="90" width="428" height="172" rx="10" fill="#fff"/>
 <text x="1846" y="124" font-size="24" fill="#1a1a1a">可编程电子负载</text>
 <use href="#psu" transform="translate(1846,140) scale(0.99,1.03)"/>
 <text x="2113" y="154" font-size="19" fill="#333">· 产线老化</text>
 <text x="2113" y="180" font-size="19" fill="#333">· 输出特性</text>
 <text x="2113" y="205" font-size="19" fill="#333">· 负载效应</text>
 <text x="1846" y="248" font-size="21" fill="#1a1a1a">NGI可提供全套的“汽车电子解决方案”</text>
</g>

<!-- Callout F 工商业/户用储能BMS/PCS测试 -->
<g>
 <rect x="2349" y="167" width="378" height="198" rx="10" fill="#fff"/>
 <text x="2368" y="206" font-size="24" fill="#1a1a1a">工商业/户用储能BMS/PCS测试</text>
 <use href="#psu" transform="translate(2369,225) scale(0.99,0.97)"/>
 <text x="2366" y="326" font-size="19" fill="#333">· MPPT跟踪</text>
 <text x="2366" y="351" font-size="19" fill="#333">· 光照模拟</text>
</g>

<!-- Callout G 工业电源测试 -->
<g>
 <rect x="2804" y="92" width="406" height="303" rx="10" fill="#fff"/>
 <text x="2825" y="127" font-size="24" fill="#1a1a1a">工业电源测试</text>
 <rect x="2821" y="149" width="244" height="89" fill="#ededf0" stroke="#bbb"/>
 <rect x="2821" y="155" width="7" height="78" rx="3" fill="#222"/>
 <rect x="3058" y="155" width="7" height="78" rx="3" fill="#222"/>
 <rect x="2834" y="152" width="10" height="6" fill="#d02020"/>
 <rect x="2836" y="190" width="22" height="18" fill="#222"/>
 <g fill="#e2e2e6" stroke="#b8b8be">
  <rect x="2864" y="162" width="11" height="58"/><rect x="2878" y="162" width="11" height="58"/><rect x="2892" y="162" width="11" height="58"/><rect x="2906" y="162" width="11" height="58"/><rect x="2920" y="162" width="11" height="58"/><rect x="2934" y="162" width="11" height="58"/><rect x="2948" y="162" width="11" height="58"/><rect x="2962" y="162" width="11" height="58"/><rect x="2976" y="162" width="11" height="58"/><rect x="2990" y="162" width="11" height="58"/><rect x="3004" y="162" width="11" height="58"/><rect x="3018" y="162" width="11" height="58"/><rect x="3032" y="162" width="11" height="58"/>
 </g>
 <path d="M2869,178 V212 M2883,178 V212 M2897,178 V212 M2911,178 V212 M2925,178 V212 M2939,178 V212 M2953,178 V212 M2967,178 V212 M2981,178 V212 M2995,178 V212 M3009,178 V212 M3023,178 V212 M3037,178 V212" stroke="#3cb371" stroke-width="3"/>
 <rect x="2862" y="216" width="184" height="8" fill="#d42a2a"/>
 <use href="#psu" transform="translate(2821,239) scale(0.976,0.97)"/>
 <use href="#psu" transform="translate(2821,308) scale(0.976,0.99)"/>
 <text x="3088" y="230" font-size="19" fill="#333">· 供电性能</text>
 <text x="3088" y="256" font-size="19" fill="#333">· 带载性能</text>
 <text x="3088" y="282" font-size="19" fill="#333">· 通信功能</text>
</g>

<!-- Red callout H 燃料电池测试 -->
<g>
 <rect x="2093" y="712" width="388" height="171" rx="10" fill="#b71c24"/>
 <text x="2114" y="746" font-size="24" fill="#fff">燃料电池测试</text>
 <use href="#psu" transform="translate(2120,761) scale(0.92,0.99)"/>
 <rect x="2108" y="832" width="248" height="24" rx="2" fill="#f1f1f4" stroke="#bbb"/>
 <rect x="2108" y="834" width="6" height="20" rx="2" fill="#222"/>
 <rect x="2350" y="834" width="6" height="20" rx="2" fill="#222"/>
 <rect x="2120" y="838" width="8" height="12" fill="#222"/>
 <circle cx="2136" cy="848" r="2" fill="#c22"/><circle cx="2143" cy="848" r="2" fill="#2a2"/><circle cx="2150" cy="848" r="2" fill="#2a2"/>
 <text x="2366" y="785" font-size="19" fill="#fff">· 放电测试</text>
 <text x="2366" y="811" font-size="19" fill="#fff">· 阻抗分析</text>
 <text x="2366" y="837" font-size="19" fill="#fff">· 电压巡检</text>
</g>

<!-- Red callout I DC -DC模块测试 -->
<g>
 <rect x="2697" y="1029" width="424" height="211" rx="10" fill="#b71c24"/>
 <text x="2720" y="1064" font-size="24" fill="#fff">DC -DC模块测试</text>
 <use href="#psu" transform="translate(2720,1080) scale(0.968,0.96)"/>
 <use href="#psu" transform="translate(2720,1150) scale(0.968,0.97)"/>
 <text x="2986" y="1130" font-size="19" fill="#fff">· 输入特性</text>
 <text x="2986" y="1156" font-size="19" fill="#fff">· 输出特性</text>
 <text x="2986" y="1182" font-size="19" fill="#fff">· 耐久性寿命</text>
</g>
</svg>
</body></html>
